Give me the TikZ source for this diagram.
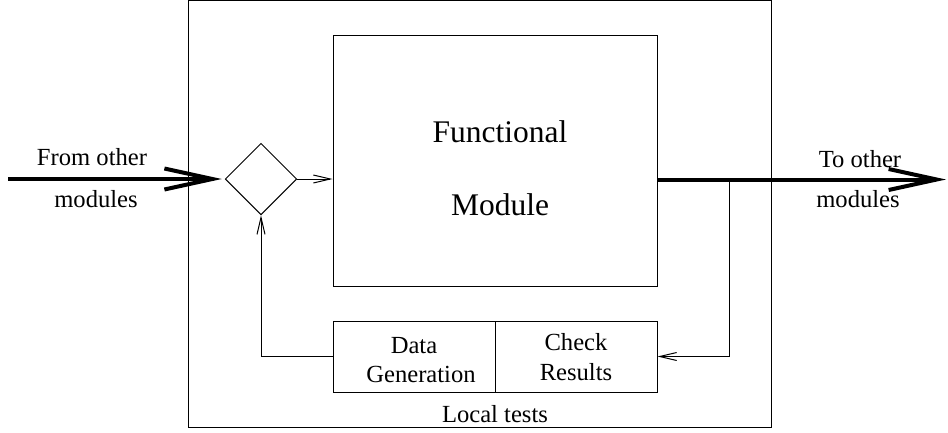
\documentclass[tikz,border=0pt]{standalone}
\usepackage{fontspec}
\setmainfont{Liberation Serif}
\usetikzlibrary{arrows.meta,shapes.geometric}
\begin{document}
\begin{tikzpicture}[x=1pt,y=-1pt,
  thin line/.style={line width=1pt},
  box/.style={draw,thin line,inner sep=0pt,rectangle},
  bigtext/.style={font=\fontsize{31.5}{38}\selectfont,anchor=base,inner sep=0pt},
  smalltext/.style={font=\fontsize{24.6}{29}\selectfont,anchor=base,inner sep=0pt},
  bigarrow/.style={line width=4pt,-{Straight Barb[length=48pt,width=21pt,line width=4pt]}},
  smallarrow/.style={thin line,-{Straight Barb[length=17pt,width=8pt,line width=1pt]}}]
\useasboundingbox (0,0) rectangle (948,432);
% outer frame
\node[box,minimum width=582.5pt,minimum height=426.5pt] (frame) at (479.75,213.75) {};
% functional module
\node[box,minimum width=324pt,minimum height=251pt] (module) at (495,160.5) {};
% diamond
\node[draw,thin line,diamond,aspect=1,inner sep=0pt,minimum size=71.5pt] (dia) at (261,179) {};
% bottom boxes
\node[box,minimum width=162pt,minimum height=71pt] (dg) at (414,356.5) {};
\node[box,minimum width=162pt,minimum height=71pt] (cr) at (576,356.5) {};
% texts
\node[bigtext] (t1) at (500,142.7) {Functional};
\node[bigtext] (t2) at (500,215) {Module};
\node[smalltext] (t3) at (92,165) {From other};
\node[smalltext] (t4) at (96,207) {modules};
\node[smalltext] (t5) at (860,167) {To other};
\node[smalltext] (t6) at (858,207) {modules};
\node[smalltext] (t7) at (414,353) {Data};
\node[smalltext] (t8) at (421,382) {Generation};
\node[smalltext] (t9) at (576,350) {Check};
\node[smalltext] (t10) at (576,380) {Results};
\node[smalltext] (t11) at (495,422) {Local tests};
% coordinates
\coordinate (in) at (8,179);
\coordinate (out) at (946,179.5);
\coordinate (br) at (729,179.5);
% connectors
\draw[bigarrow] (in) -- ([xshift=-3pt]dia.west);
\draw[smallarrow] (dia.east) -- (dia.east -| module.west);
\draw[bigarrow] (module.east |- out) -- (out);
\draw[smallarrow] (br) |- (cr.east);
\draw[smallarrow] (dg.west) -| (dia.south);
\end{tikzpicture}
\end{document}
